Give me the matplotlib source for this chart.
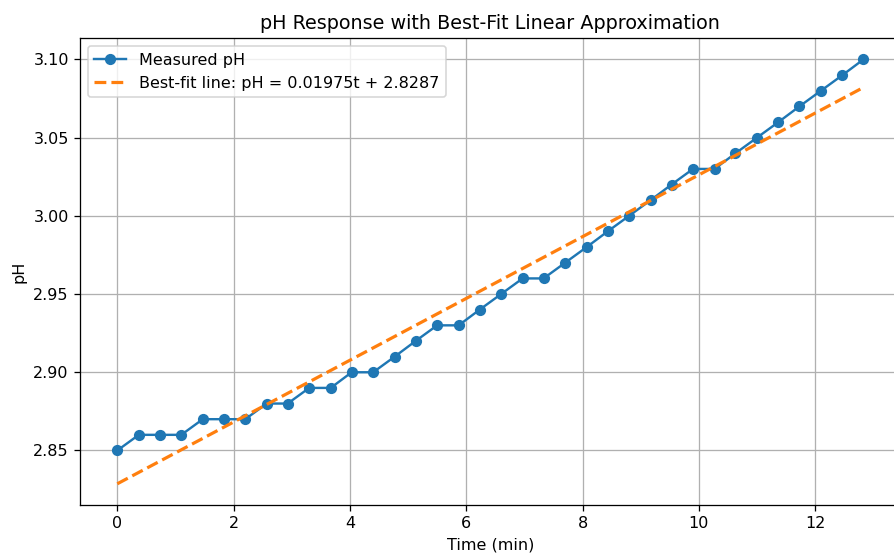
import numpy as np
import matplotlib
matplotlib.use('Agg')
import matplotlib.pyplot as plt

# Measured data (time in minutes, pH)
time_min = [0.00, 0.37, 0.73, 1.10, 1.47, 1.83, 2.20, 2.57, 2.93, 3.30,
            3.67, 4.03, 4.40, 4.77, 5.13, 5.50, 5.87, 6.23, 6.60, 6.97,
            7.33, 7.70, 8.07, 8.43, 8.80, 9.17, 9.53, 9.90, 10.27, 10.63,
            11.00, 11.37, 11.73, 12.10, 12.47, 12.83]
ph_values = [2.85, 2.86, 2.86, 2.86, 2.87, 2.87, 2.87, 2.88, 2.88, 2.89,
             2.89, 2.90, 2.90, 2.91, 2.92, 2.93, 2.93, 2.94, 2.95, 2.96,
             2.96, 2.97, 2.98, 2.99, 3.00, 3.01, 3.02, 3.03, 3.03, 3.04,
             3.05, 3.06, 3.07, 3.08, 3.09, 3.10]

slope, intercept = 0.01975, 2.8287

t = np.array(time_min)
fit = slope * t + intercept

# reference looks rendered at a slightly higher dpi, then cropped on the right
dpi = 115
fig = plt.figure(figsize=(894 / dpi, 559 / dpi), dpi=dpi)
ax = fig.add_axes([0.0895, 0.0966, 0.918, 0.835])

ax.plot(t, ph_values, marker='o', markersize=6, label='Measured pH')
ax.plot(t, fit, '--', linewidth=2, label=f'Best-fit line: pH = {slope}t + {intercept}')

ax.set_title('pH Response with Best-Fit Linear Approximation')
ax.set_xlabel('Time (min)')
ax.set_ylabel('pH')
ax.grid(True)
ax.legend(loc='upper left')

fig.savefig('out.png', dpi=dpi)
